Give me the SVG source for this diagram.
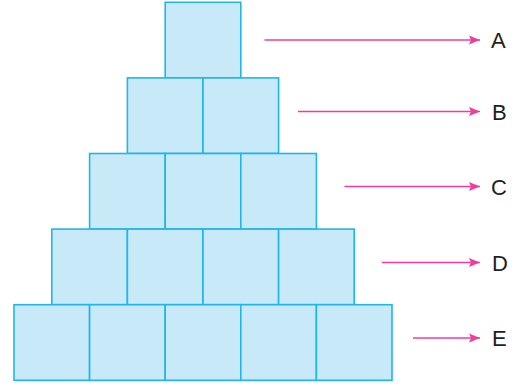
<svg xmlns="http://www.w3.org/2000/svg" width="519" height="389" viewBox="0 0 519 389">
<style>
.sq{fill:#c8e9f8;stroke:#1fb6ea;stroke-width:1.6}
.ar{stroke:#f03c9d;stroke-width:1.6;fill:none}
.lb{font-family:"Liberation Sans",Arial,sans-serif;font-size:22px;fill:#231f20}
</style>
<defs>
<marker id="ah" markerUnits="userSpaceOnUse" markerWidth="12" markerHeight="10" refX="11" refY="5" orient="auto">
<path d="M0,0.5 L11,5 L0,9.5 L2,5 Z" fill="#f03c9d"/>
</marker>
</defs>
<g id="rowA">
<rect class="sq" x="165.2" y="2.3" width="75.6" height="75.6"/>
</g>
<g id="rowB">
<rect class="sq" x="127.4" y="77.9" width="75.6" height="75.6"/>
<rect class="sq" x="203" y="77.9" width="75.6" height="75.6"/>
</g>
<g id="rowC">
<rect class="sq" x="89.6" y="153.5" width="75.6" height="75.6"/>
<rect class="sq" x="165.2" y="153.5" width="75.6" height="75.6"/>
<rect class="sq" x="240.8" y="153.5" width="75.6" height="75.6"/>
</g>
<g id="rowD">
<rect class="sq" x="51.8" y="229.1" width="75.6" height="75.6"/>
<rect class="sq" x="127.4" y="229.1" width="75.6" height="75.6"/>
<rect class="sq" x="203" y="229.1" width="75.6" height="75.6"/>
<rect class="sq" x="278.6" y="229.1" width="75.6" height="75.6"/>
</g>
<g id="rowE">
<rect class="sq" x="14" y="304.7" width="75.6" height="75.6"/>
<rect class="sq" x="89.6" y="304.7" width="75.6" height="75.6"/>
<rect class="sq" x="165.2" y="304.7" width="75.6" height="75.6"/>
<rect class="sq" x="240.8" y="304.7" width="75.6" height="75.6"/>
<rect class="sq" x="316.4" y="304.7" width="75.6" height="75.6"/>
</g>
<g id="connectors">
<line class="ar" x1="264.5" y1="40" x2="480" y2="40" marker-end="url(#ah)"/>
<line class="ar" x1="298" y1="111.5" x2="480" y2="111.5" marker-end="url(#ah)"/>
<line class="ar" x1="344.5" y1="186.5" x2="480" y2="186.5" marker-end="url(#ah)"/>
<line class="ar" x1="382" y1="262.5" x2="480" y2="262.5" marker-end="url(#ah)"/>
<line class="ar" x1="413" y1="338" x2="480" y2="338" marker-end="url(#ah)"/>
</g>
<g id="labels">
<text class="lb" x="491" y="48">A</text>
<text class="lb" x="492" y="119.5">B</text>
<text class="lb" x="491" y="194.5">C</text>
<text class="lb" x="492" y="270.5">D</text>
<text class="lb" x="492" y="346">E</text>
</g>
</svg>
